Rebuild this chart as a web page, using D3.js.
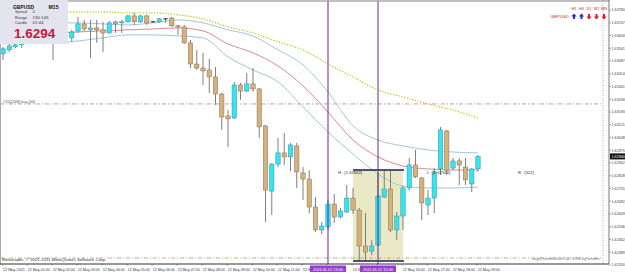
<!DOCTYPE html>
<html>
<head>
<meta charset="utf-8">
<script src="https://cdn.jsdelivr.net/npm/d3@7"></script>
<style>
  body { margin: 0; background: #fff; }
  svg { display: block; font-family: "Liberation Sans", Arial, sans-serif; }
</style>
</head>
<body>
<svg id="chart" width="625" height="274"></svg>
<script>
// GBPUSD M15, 12 May 2011, bars 00:00 .. 19:00
const hourLabels = ["12 May 2011", "12 May 01:00", "12 May 02:00", "12 May 03:00", "12 May 04:00",
  "12 May 05:00", "12 May 06:00", "12 May 07:00", "12 May 08:00", "12 May 09:00", "12 May 10:00",
  "12 May 11:00", "12 May 12:00", "12 May 13:00", "12 May 14:00", "12 May 15:00", "12 May 16:00",
  "12 May 17:00", "12 May 18:00", "12 May 19:00"];

const opens = [
  1.63528, 1.63551, 1.63568, 1.63580, 1.63608, 1.63637, 1.63666, 1.63648, 1.63683, 1.63620,
  1.63648, 1.63620, 1.63660, 1.63700, 1.63666, 1.63677, 1.63666, 1.63648, 1.63712, 1.63709,
  1.63712, 1.63746, 1.63712, 1.63746, 1.63712, 1.63712, 1.63729, 1.63734, 1.63689, 1.63683,
  1.63591, 1.63470, 1.63447, 1.63436, 1.63396, 1.63298, 1.63172, 1.63160, 1.63350, 1.63315,
  1.63356, 1.63327, 1.63115, 1.62741, 1.62896, 1.62960, 1.62937, 1.63000, 1.62845, 1.62810,
  1.62650, 1.62518, 1.62535, 1.62667, 1.62592, 1.62621, 1.62701, 1.62632, 1.62426, 1.62397,
  1.62431, 1.62707, 1.62753, 1.62518, 1.62598, 1.62759, 1.62891, 1.62816, 1.62661, 1.62701,
  1.62868, 1.63086, 1.62873, 1.62914, 1.62879, 1.62782, 1.62868];
const highs = [
  1.63568, 1.63585, 1.63591, 1.63625, 1.63648, 1.63677, 1.63683, 1.63700, 1.63712, 1.63666,
  1.63666, 1.63666, 1.63740, 1.63723, 1.63723, 1.63723, 1.63712, 1.63717, 1.63717, 1.63723,
  1.63752, 1.63763, 1.63752, 1.63752, 1.63717, 1.63734, 1.63734, 1.63740, 1.63694, 1.63694,
  1.63608, 1.63551, 1.63534, 1.63499, 1.63453, 1.63304, 1.63206, 1.63367, 1.63361, 1.63419,
  1.63447, 1.63333, 1.63120, 1.62902, 1.63046, 1.63074, 1.63017, 1.63017, 1.62879, 1.62862,
  1.62707, 1.62564, 1.62690, 1.62724, 1.62644, 1.62776, 1.62759, 1.62644, 1.62615, 1.62460,
  1.62845, 1.62862, 1.62856, 1.62621, 1.62770, 1.62931, 1.62977, 1.62822, 1.62747, 1.62873,
  1.63109, 1.63092, 1.62931, 1.62931, 1.62931, 1.62873, 1.62948];
const lows = [
  1.63493, 1.63539, 1.63562, 1.63562, 1.63597, 1.63625, 1.63637, 1.63643, 1.63493, 1.63597,
  1.63608, 1.63597, 1.63648, 1.63660, 1.63505, 1.63591, 1.63539, 1.63643, 1.63648, 1.63648,
  1.63706, 1.63694, 1.63706, 1.63694, 1.63706, 1.63706, 1.63706, 1.63683, 1.63637, 1.63585,
  1.63447, 1.63436, 1.63350, 1.63304, 1.63235, 1.63092, 1.62994, 1.63155, 1.63264, 1.63310,
  1.63310, 1.63046, 1.62564, 1.62604, 1.62879, 1.62891, 1.62856, 1.62759, 1.62690, 1.62615,
  1.62506, 1.62495, 1.62518, 1.62558, 1.62586, 1.62615, 1.62609, 1.62340, 1.62340, 1.62374,
  1.62426, 1.62701, 1.62506, 1.62460, 1.62518, 1.62747, 1.62816, 1.62575, 1.62604, 1.62615,
  1.62833, 1.62833, 1.62862, 1.62776, 1.62776, 1.62736, 1.62851];
const closes = [
  1.63557, 1.63574, 1.63580, 1.63608, 1.63637, 1.63666, 1.63648, 1.63683, 1.63620, 1.63648,
  1.63631, 1.63654, 1.63700, 1.63671, 1.63677, 1.63666, 1.63648, 1.63706, 1.63700, 1.63712,
  1.63746, 1.63712, 1.63746, 1.63706, 1.63712, 1.63729, 1.63729, 1.63689, 1.63683, 1.63591,
  1.63470, 1.63447, 1.63430, 1.63396, 1.63298, 1.63166, 1.63155, 1.63350, 1.63315, 1.63356,
  1.63327, 1.63109, 1.62747, 1.62896, 1.62960, 1.62937, 1.63006, 1.62851, 1.62810, 1.62650,
  1.62518, 1.62541, 1.62667, 1.62592, 1.62627, 1.62701, 1.62632, 1.62426, 1.62391, 1.62426,
  1.62713, 1.62753, 1.62518, 1.62598, 1.62759, 1.62891, 1.62822, 1.62673, 1.62701, 1.62851,
  1.63092, 1.62862, 1.62914, 1.62891, 1.62805, 1.62868, 1.62940];

// moving averages, read once per hour (bar index 0, 4, 8 ... 76)
const maBars = [0, 4, 8, 12, 16, 20, 24, 28, 32, 36, 40, 44, 48, 52, 56, 60, 64, 68, 72, 76];
const maSlow = [1.63775, 1.63775, 1.63769, 1.63769, 1.63769, 1.63763, 1.63763, 1.63752, 1.63729, 1.63683,
  1.63648, 1.63597, 1.63551, 1.63470, 1.63396, 1.63321, 1.63281, 1.63241, 1.63206, 1.63160];
const bandUpper = [1.63700, 1.63706, 1.63706, 1.63706, 1.63700, 1.63694, 1.63706, 1.63723, 1.63706, 1.63666,
  1.63631, 1.63551, 1.63465, 1.63310, 1.63115, 1.63034, 1.63000, 1.62977, 1.62965, 1.62960];
const bandMid = [1.63643, 1.63648, 1.63648, 1.63654, 1.63660, 1.63666, 1.63671, 1.63677, 1.63660, 1.63585,
  1.63534, 1.63459, 1.63344, 1.63195, 1.63034, 1.62937, 1.62885, 1.62868, 1.62862, 1.62862];
const bandLower = [1.63585, 1.63591, 1.63591, 1.63602, 1.63620, 1.63637, 1.63637, 1.63631, 1.63620, 1.63511,
  1.63436, 1.63367, 1.63224, 1.63080, 1.62954, 1.62839, 1.62770, 1.62759, 1.62759, 1.62764];

const priceTicks = ["1.63780", "1.63707", "1.63634", "1.63561", "1.63487", "1.63414", "1.63341",
  "1.63268", "1.63194", "1.63121", "1.63048", "1.62975", "1.62902", "1.62828", "1.62755", "1.62682",
  "1.62609", "1.62536", "1.62462", "1.62389", "1.62316"];

const markerBars = [52, 60];
const markerLabels = ["2011.05.12 13:00", "2011.05.12 15:00"];
const boxBars = [56, 64];
const boxHigh = 1.62862, boxLow = 1.62340;
const orderLevel = 1.63241, lowLevel = 1.62357;
const bid = 1.62940;
const trendFrames = ["H1", "H4", "D1", "W1", "MN"];
const trendUp = [true, true, false, false, false];
const infoRows = [["Spread", "2"], ["Range", "130.145"], ["Candle", "01:44"]];

const svg = d3.select("#chart");
const x = d3.scaleLinear().domain([0, 76]).range([3, 478]);
const y = d3.scaleLinear().domain([boxLow, boxHigh]).range([261, 170]);
const plotRight = 603, axisX = 609, bottomY = 264;

svg.append("rect").attr("width", 625).attr("height", 274).attr("fill", "#fff");

// range box
svg.append("rect")
  .attr("x", x(boxBars[0])).attr("y", y(boxHigh))
  .attr("width", x(boxBars[1]) - x(boxBars[0])).attr("height", y(boxLow) - y(boxHigh))
  .attr("fill", "#e9e9c6");

// dash-dot levels
[orderLevel, lowLevel].forEach((lv, k) => {
  svg.append("line")
    .attr("x1", 0).attr("x2", plotRight).attr("y1", y(lv)).attr("y2", y(lv))
    .attr("stroke", k ? "#c89070" : "#b08888").attr("stroke-width", 0.8)
    .attr("stroke-dasharray", "4,2,1,2");
});
svg.append("text").attr("x", 3).attr("y", y(orderLevel) - 1)
  .attr("font-size", 3.8).attr("fill", "#555").text("#10(2448) buy (00)");

// bands and slow MA
const line = d3.line().x((d, i) => x(maBars[i])).y(d => y(d)).curve(d3.curveMonotoneX);
[[bandUpper, "#9ec6de"], [bandLower, "#9ec6de"], [bandMid, "#d98c8c"]].forEach(([s, c]) => {
  svg.append("path").attr("d", line(s)).attr("fill", "none").attr("stroke", c).attr("stroke-width", 1);
});
svg.append("path").attr("d", line(maSlow)).attr("fill", "none")
  .attr("stroke", "#c2c200").attr("stroke-width", 1.2).attr("stroke-dasharray", "1.2,1.6");

// candles
const bars = d3.range(opens.length).map(i => ({i, o: opens[i], h: highs[i], l: lows[i], c: closes[i]}));
const bw = 4.4;
const g = svg.append("g");
g.selectAll("line.wick").data(bars).join("line")
  .attr("x1", d => x(d.i)).attr("x2", d => x(d.i))
  .attr("y1", d => y(d.h)).attr("y2", d => y(d.l))
  .attr("stroke", "#707070").attr("stroke-width", 0.9);
g.selectAll("rect.body").data(bars.filter(d => d.o !== d.c)).join("rect")
  .attr("x", d => x(d.i) - bw / 2).attr("width", bw)
  .attr("y", d => y(Math.max(d.o, d.c)))
  .attr("height", d => Math.max(1, Math.abs(y(d.o) - y(d.c))))
  .attr("fill", d => d.c > d.o ? "#2fe6f2" : "#d4b27e")
  .attr("stroke", d => d.c > d.o ? "#4a8c98" : "#8a7050").attr("stroke-width", 0.5);
g.selectAll("line.doji").data(bars.filter(d => d.o === d.c)).join("line")
  .attr("x1", d => x(d.i) - bw / 2).attr("x2", d => x(d.i) + bw / 2)
  .attr("y1", d => y(d.c)).attr("y2", d => y(d.c))
  .attr("stroke", "#222").attr("stroke-width", 1);

// box edges and labels
[boxHigh, boxLow].forEach(lv => {
  svg.append("line").attr("x1", x(boxBars[0])).attr("x2", x(boxBars[1]) + 1)
    .attr("y1", y(lv)).attr("y2", y(lv)).attr("stroke", "#1c1c50").attr("stroke-width", 1.6);
});
const small = (t, px, py, opts = {}) => {
  const el = svg.append("text").attr("x", px).attr("y", py)
    .attr("font-size", opts.size || 4.2).attr("fill", opts.fill || "#333")
    .attr("text-anchor", opts.anchor || "start").attr("font-style", opts.style || null)
    .attr("font-weight", opts.weight || null).text(t);
  if (opts.len) el.attr("textLength", opts.len).attr("lengthAdjust", "spacingAndGlyphs");
  return el;
};
small("H : [" + boxHigh.toFixed(5) + "]", 338, y(boxHigh) + 4);
small("L : [" + boxLow.toFixed(5) + "]", 427, y(boxHigh) + 4);
small("R : [" + Math.round((boxHigh - boxLow) * 1e5) + "]", 518, y(boxHigh) + 4);

// vertical time markers
markerBars.forEach(b => {
  svg.append("line").attr("x1", x(b)).attr("x2", x(b)).attr("y1", 0).attr("y2", bottomY)
    .attr("stroke", "#6a2a8c").attr("stroke-width", 1);
});

// frame
svg.append("line").attr("x1", 0).attr("x2", axisX).attr("y1", 1).attr("y2", 1).attr("stroke", "#aaa").attr("stroke-width", 1.5);
svg.append("line").attr("x1", 0.5).attr("x2", 0.5).attr("y1", 0).attr("y2", bottomY).attr("stroke", "#aaa");
svg.append("line").attr("x1", plotRight).attr("x2", plotRight).attr("y1", 0).attr("y2", bottomY)
  .attr("stroke", "#777").attr("stroke-width", 0.6).attr("stroke-dasharray", "1,1.5");
svg.append("line").attr("x1", axisX).attr("x2", axisX).attr("y1", 0).attr("y2", bottomY).attr("stroke", "#555").attr("stroke-width", 0.8);
svg.append("line").attr("x1", 0).attr("x2", axisX).attr("y1", bottomY).attr("y2", bottomY).attr("stroke", "#333").attr("stroke-width", 1);

// price axis
const tickY = d3.scaleLinear().domain([0, priceTicks.length - 1]).range([10, 265]);
priceTicks.forEach((t, k) => {
  svg.append("line").attr("x1", axisX).attr("x2", axisX + 2).attr("y1", tickY(k)).attr("y2", tickY(k)).attr("stroke", "#555").attr("stroke-width", 0.5);
  small(t, 611.5, tickY(k) + 1.3, {size: 3.7, fill: "#444"});
});
svg.append("rect").attr("x", axisX + 1).attr("y", y(bid) - 3).attr("width", 15).attr("height", 6).attr("fill", "#111");
small(bid.toFixed(5), 611.5, y(bid) + 1.3, {size: 3.7, fill: "#fff"});

// time axis: purple marker labels cover the 13:00 and 15:00 labels and cut the ones before them
const markerHours = markerBars.map(b => b / 4);
hourLabels.forEach((t, h) => {
  const px = x(h * 4) - 1;
  svg.append("line").attr("x1", px).attr("x2", px).attr("y1", bottomY).attr("y2", bottomY + 1.5).attr("stroke", "#333").attr("stroke-width", 0.5);
  if (markerHours.includes(h)) return;
  if (markerHours.includes(h + 1)) { small(t.slice(0, 4), px + 0.8, 271, {size: 3.9, fill: "#333"}); return; }
  small(t, px + 0.8, 271, {size: 3.9, fill: "#333", len: 22});
});
markerBars.forEach((b, k) => {
  svg.append("rect").attr("x", x(b) - 18).attr("y", 265.5).attr("width", 36).attr("height", 6.5).attr("fill", "#9a3ad8");
  small(markerLabels[k], x(b), 270.8, {size: 3.9, fill: "#fff", anchor: "middle"});
});

small("Metatrader, \u00a9 2001-2011 MetaQuotes Software Corp.", 2, 260.5, {size: 4.4, fill: "#333"});
small("avgCreateBaseCat_V3.4 by andee", 600, 259.5, {size: 4.4, fill: "#777", anchor: "end", style: "italic"});

// trend panel top right
trendFrames.forEach((f, k) => {
  const ax = 574 + k * 7.5;
  small(f, ax, 10, {size: 3.8, fill: "#d42020", anchor: "middle"});
  const up = trendUp[k], cy = 16.5;
  const p = up
    ? `M${ax - 2.6},${cy} L${ax},${cy - 3} L${ax + 2.6},${cy} L${ax + 1},${cy} L${ax + 1},${cy + 2.5} L${ax - 1},${cy + 2.5} L${ax - 1},${cy} Z`
    : `M${ax - 2.6},${cy} L${ax},${cy + 3} L${ax + 2.6},${cy} L${ax + 1},${cy} L${ax + 1},${cy - 2.5} L${ax - 1},${cy - 2.5} L${ax - 1},${cy} Z`;
  svg.append("path").attr("d", p).attr("fill", up ? "#1a2ee0" : "#e02020");
});
small("GBPUSD", 569, 18, {size: 4.4, fill: "#d42020", anchor: "end"});

// info panel
svg.append("rect").attr("x", 0).attr("y", 0).attr("width", 68).attr("height", 44).attr("fill", "#e4e4ee");
small("GBPUSD", 13, 8.5, {size: 6, fill: "#111", weight: "bold", len: 21});
small("M15", 48.5, 8.5, {size: 6, fill: "#111", weight: "bold", len: 10});
infoRows.forEach(([k, v], j) => {
  small(k, 15, 13.4 + j * 5.4, {size: 4.4, fill: "#333", len: 12});
  small(v, 32.5, 13.4 + j * 5.4, {size: 4.4, fill: "#333"});
});
svg.append("text").attr("x", 14).attr("y", 37.8).attr("font-size", 13.5).attr("font-weight", "bold")
  .attr("fill", "#c8143c").text(bid.toFixed(4));
</script>
</body>
</html>
